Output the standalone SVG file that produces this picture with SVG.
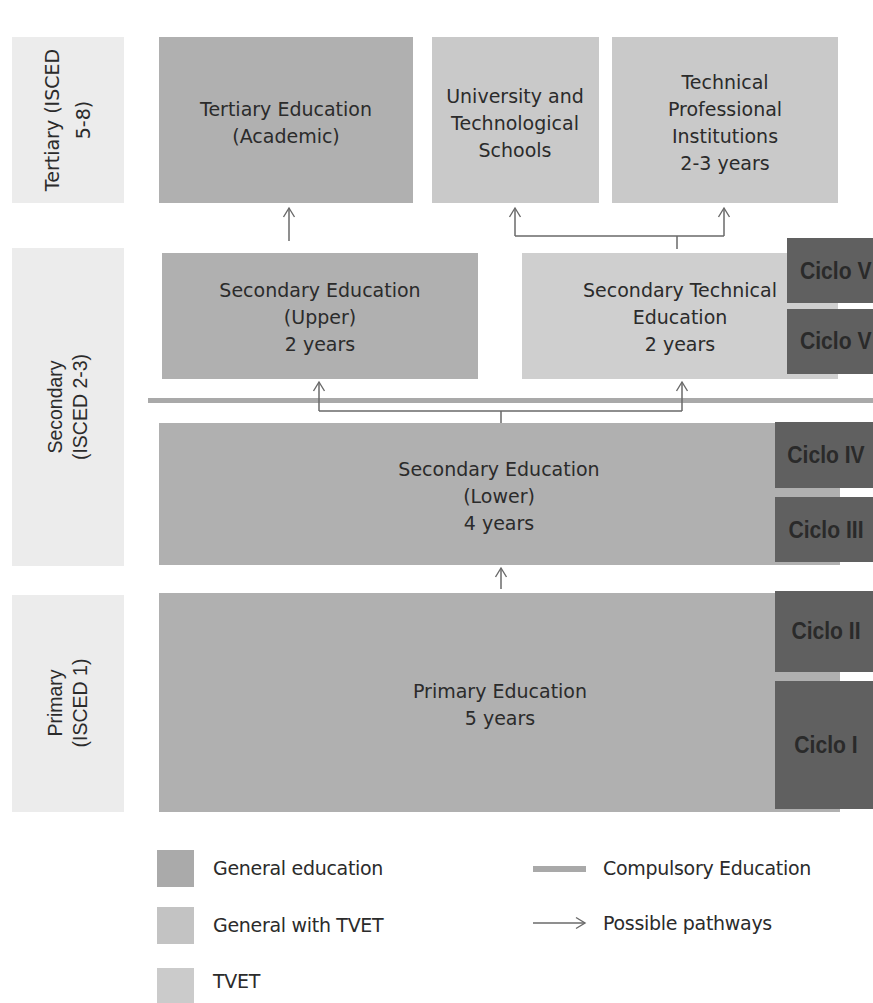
<svg xmlns="http://www.w3.org/2000/svg" width="873" height="1003" viewBox="0 0 873 1003">
<style>
.lbl{fill:#ececec}
.gen{fill:#b0b0b0}
.gt{fill:#c9c9c9}
.tv{fill:#cfcfcf}
.cic{fill:#606060}
.t{font-family:"DejaVu Sans",sans-serif;font-size:19px;fill:#2b2b2b;text-anchor:middle}
.side{font-family:"Liberation Sans",sans-serif;font-size:19.5px;fill:#2b2b2b;text-anchor:middle}
.c{font-family:"Liberation Sans",sans-serif;font-size:24px;font-weight:bold;fill:#2a2a2a;text-anchor:middle}
.lg{font-family:"DejaVu Sans",sans-serif;font-size:19px;fill:#2b2b2b;letter-spacing:-0.3px}
.con{fill:none;stroke:#6a6a6a;stroke-width:1.5}
</style>
<defs>
<marker id="arr" viewBox="-10 -7 12 14" refX="0" refY="0" markerWidth="12" markerHeight="14" markerUnits="userSpaceOnUse" orient="auto">
<path d="M-9,-5.5 L0,0 L-9,5.5" fill="none" stroke="#6a6a6a" stroke-width="1.4"/>
</marker>
</defs>
<rect width="873" height="1003" fill="#ffffff"/>

<g id="label-tertiary">
<rect class="lbl" x="12" y="37" width="112" height="166"/>
<text class="t" transform="translate(59,120) rotate(-90)" x="0" y="0">Tertiary (ISCED</text>
<text class="t" transform="translate(90,120) rotate(-90)" x="0" y="0">5-8)</text>
</g>
<g id="label-secondary">
<rect class="lbl" x="12" y="248" width="112" height="318"/>
<text class="side" transform="translate(62,407) rotate(-90)">Secondary</text>
<text class="side" transform="translate(87,407) rotate(-90)">(ISCED 2-3)</text>
</g>
<g id="label-primary">
<rect class="lbl" x="12" y="595" width="112" height="217"/>
<text class="side" transform="translate(62,703) rotate(-90)">Primary</text>
<text class="side" transform="translate(87,703) rotate(-90)">(ISCED 1)</text>
</g>

<g id="tertiary-academic">
<rect class="gen" x="159" y="37" width="254" height="166"/>
<text class="t" x="286" y="116">Tertiary Education</text>
<text class="t" x="286" y="143">(Academic)</text>
</g>
<g id="university-technological">
<rect class="gt" x="432" y="37" width="167" height="166"/>
<text class="t" x="515" y="103">University and</text>
<text class="t" x="515" y="130">Technological</text>
<text class="t" x="515" y="157">Schools</text>
</g>
<g id="technical-professional">
<rect class="gt" x="612" y="37" width="226" height="166"/>
<text class="t" x="725" y="89">Technical</text>
<text class="t" x="725" y="116">Professional</text>
<text class="t" x="725" y="143">Institutions</text>
<text class="t" x="725" y="170">2-3 years</text>
</g>

<g id="secondary-upper">
<rect class="gen" x="162" y="253" width="316" height="126"/>
<text class="t" x="320" y="297">Secondary Education</text>
<text class="t" x="320" y="324">(Upper)</text>
<text class="t" x="320" y="351">2 years</text>
</g>
<g id="secondary-technical">
<rect class="tv" x="522" y="253" width="316" height="126"/>
<text class="t" x="680" y="297">Secondary Technical</text>
<text class="t" x="680" y="324">Education</text>
<text class="t" x="680" y="351">2 years</text>
</g>
<g id="ciclo-v-upper">
<rect class="cic" x="787" y="238" width="90" height="65"/>
<text class="c" transform="translate(800,279) scale(0.88,1)" style="text-anchor:start">Ciclo V</text>
</g>
<g id="ciclo-v-lower">
<rect class="cic" x="787" y="309" width="90" height="65"/>
<text class="c" transform="translate(800,349) scale(0.88,1)" style="text-anchor:start">Ciclo V</text>
</g>

<g id="compulsory-bar">
<rect x="148" y="398" width="725" height="5" fill="#a9a9a9"/>
</g>

<g id="secondary-lower">
<rect class="gen" x="159" y="423" width="681" height="142"/>
<text class="t" x="499" y="476">Secondary Education</text>
<text class="t" x="499" y="503">(Lower)</text>
<text class="t" x="499" y="530">4 years</text>
</g>
<g id="ciclo-iv">
<rect class="cic" x="775" y="422" width="98" height="66"/>
<text class="c" transform="translate(826,463) scale(0.88,1)">Ciclo IV</text>
</g>
<g id="ciclo-iii">
<rect class="cic" x="775" y="497" width="98" height="65"/>
<text class="c" transform="translate(826,538) scale(0.88,1)">Ciclo III</text>
</g>

<g id="primary">
<rect class="gen" x="159" y="593" width="681" height="219"/>
<text class="t" x="500" y="698">Primary Education</text>
<text class="t" x="500" y="725">5 years</text>
</g>
<g id="ciclo-ii">
<rect class="cic" x="775" y="591" width="98" height="81"/>
<text class="c" transform="translate(826,639) scale(0.88,1)">Ciclo II</text>
</g>
<g id="ciclo-i">
<rect class="cic" x="775" y="681" width="98" height="128"/>
<text class="c" transform="translate(826,753) scale(0.88,1)">Ciclo I</text>
</g>

<g id="connectors">
<path class="con" d="M289,241 V208" marker-end="url(#arr)"/>
<path class="con" d="M515,236 V208" marker-end="url(#arr)"/>
<path class="con" d="M724,236 V208" marker-end="url(#arr)"/>
<path class="con" d="M515,236 H724 M677,236 V249"/>
<path class="con" d="M319,411 V382" marker-end="url(#arr)"/>
<path class="con" d="M682,411 V382" marker-end="url(#arr)"/>
<path class="con" d="M319,411 H682 M501,411 V423"/>
<path class="con" d="M501,589 V568" marker-end="url(#arr)"/>
</g>

<g id="legend">
<rect x="157" y="850" width="37" height="37" fill="#aaaaaa"/>
<text class="lg" x="213" y="875">General education</text>
<rect x="157" y="907" width="37" height="37" fill="#c3c3c3"/>
<text class="lg" x="213" y="932">General with TVET</text>
<rect x="157" y="968" width="37" height="35" fill="#cbcbcb"/>
<text class="lg" x="213" y="988">TVET</text>
<rect x="533" y="866" width="53" height="6" fill="#a9a9a9"/>
<text class="lg" x="603" y="875">Compulsory Education</text>
<path class="con" d="M533,923 H585" marker-end="url(#arr)"/>
<text class="lg" x="603" y="930">Possible pathways</text>
</g>
</svg>
